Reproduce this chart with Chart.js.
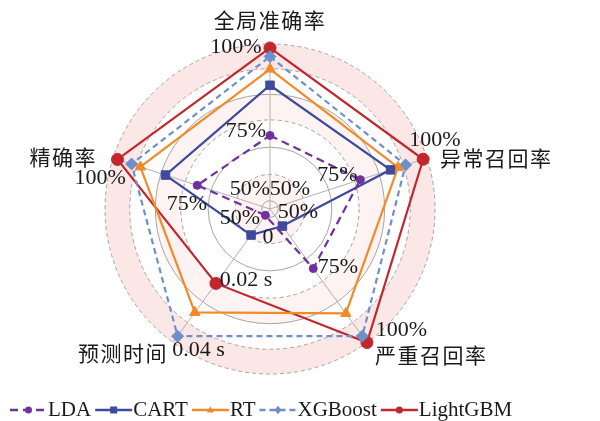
<!DOCTYPE html>
<html lang="zh">
<head>
    <meta charset="UTF-8">
    <title>Model Radar</title>
    <script src="https://cdn.jsdelivr.net/npm/chart.js@4.4.0/dist/chart.umd.min.js"></script>
    <style>
        html, body { margin: 0; padding: 0; background: #fff; }
        #wrap { width: 600px; height: 421px; position: relative; }
    </style>
</head>
<body>

    <div id="wrap"><canvas id="radar"></canvas></div>

    <script>

        // axes, clockwise from the top
        const axisNames = ['全局准确率', '异常召回率', '严重召回率', '预测时间', '精确率'];
        // percentage axes run 50%..100%, prediction time 0..0.04 s
        const axisMin = [50, 50, 50, 0, 50];
        const axisMax = [100, 100, 100, 0.04, 100];

        const modelNames = ['LDA', 'CART', 'RT', 'XGBoost', 'LightGBM'];
        const ldaValues  = [72.3, 78.8, 72.3, 0.0019, 73.2];
        const cartValues = [87.5, 88.4, 56.4, 0.0078, 83.3];
        const rtValues   = [92.4, 90.8, 89.1, 0.0310, 91.3];
        const xgbValues  = [96.2, 93.2, 97.6, 0.0381, 94.1];
        const lgbmValues = [98.8, 98.8, 100,  0.0223, 98.6];

        // value annotations on the axes
        const noteAxis   = [0, 0, 0, 1, 1, 1, 2, 2, 2, 3, 3, 3, 4, 4, 4];
        const noteValues = [100, 75, 50, 100, 75, 50, 100, 75, 50, 0.04, 0.02, 0, 100, 75, 50];
        const noteTexts  = ['100%', '75%', '50%', '100%', '75%', '50%', '100%', '75%', '50%',
                            '0.04 s', '0.02 s', '0', '100%', '75%', '50%'];

        // ring levels (share of the outer radius)
        const ringLevels = [5, 21, 37.5, 54, 69.5, 85, 100];

        // ---- styles / layout ----
        const colors = ['#7030a0', '#3e4b9c', '#f28a2a', '#6d90ca', '#c1272d'];
        const dashes = [[8, 5], [], [], [6, 4], []];
        const pointStyles = ['circle', 'rect', 'triangle', 'rectRot', 'circle'];
        const pointRadii = [4, 6, 6, 6, 6];
        const ringDashed = [false, true, false, true, false, true, true];
        const bands = [[85, 100, '#fce7e7'], [54, 69.5, '#fef3f3'], [0, 21, '#fef3f3']];
        const nameOffsets = [[0, -24, 'center'], [13, 0, 'left'], [8, 13, 'left'], [-5, 11, 'right'], [-16, -1, 'right']];
        const noteOffsets = [[-34, 3.5], [-24, 5], [-20, -19.5], [8, -18], [-11, -8], [20, -19.5],
                             [34.5, -12], [19.5, -9], [28, 3.5], [25.5, 8], [24.5, 4], [-2, 28.5],
                             [-13, 20], [-4.5, 21], [-30, 9.5]];

        function norm(i, v) {
            return (v - axisMin[i]) / (axisMax[i] - axisMin[i]) * 100;
        }

        const series = [ldaValues, cartValues, rtValues, xgbValues, lgbmValues];

        const datasets = series.map((vals, k) => ({
            label: modelNames[k],
            data: vals.map((v, i) => norm(i, v)),
            borderColor: colors[k],
            backgroundColor: colors[k],
            pointBackgroundColor: colors[k],
            pointBorderColor: colors[k],
            borderWidth: 2.2,
            borderDash: dashes[k],
            pointStyle: pointStyles[k],
            pointRadius: pointRadii[k],
            pointBorderWidth: 1,
            fill: false
        }));

        // rings background
        const bandPlugin = {
            id: 'bands',
            beforeDraw(chart) {
                const ctx = chart.ctx;
                const s = chart.scales.r;
                ctx.save();
                ctx.fillStyle = '#fff';
                ctx.fillRect(0, 0, chart.width, chart.height);
                bands.forEach(b => {
                    const r0 = s.getDistanceFromCenterForValue(b[0]);
                    const r1 = s.getDistanceFromCenterForValue(b[1]);
                    ctx.beginPath();
                    ctx.arc(s.xCenter, s.yCenter, r1, 0, Math.PI * 2);
                    ctx.arc(s.xCenter, s.yCenter, r0, 0, Math.PI * 2, true);
                    ctx.fillStyle = b[2];
                    ctx.fill();
                });
                ctx.restore();
            }
        };

        function drawMarker(ctx, style, x, y, r, color) {
            ctx.fillStyle = color;
            ctx.beginPath();
            if (style === 'circle') {
                ctx.arc(x, y, r, 0, Math.PI * 2);
            } else if (style === 'rect') {
                ctx.rect(x - r, y - r, r * 2, r * 2);
            } else if (style === 'triangle') {
                ctx.moveTo(x, y - r * 1.1);
                ctx.lineTo(x + r, y + r * 0.7);
                ctx.lineTo(x - r, y + r * 0.7);
                ctx.closePath();
            } else {
                ctx.moveTo(x, y - r * 1.2);
                ctx.lineTo(x + r, y);
                ctx.lineTo(x, y + r * 1.2);
                ctx.lineTo(x - r, y);
                ctx.closePath();
            }
            ctx.fill();
        }

        // axis names, value notes, legend
        const textPlugin = {
            id: 'texts',
            afterDatasetsDraw(chart) {
                const ctx = chart.ctx;
                const s = chart.scales.r;
                ctx.save();
                ctx.fillStyle = '#1a1a1a';
                ctx.textBaseline = 'middle';

                ctx.font = '21px "Noto Sans CJK SC"';
                ctx.letterSpacing = '1.5px';
                axisNames.forEach((name, i) => {
                    const p = s.getPointPosition(i, s.drawingArea);
                    const o = nameOffsets[i];
                    ctx.textAlign = o[2];
                    ctx.fillText(name, p.x + o[0], p.y + o[1]);
                });

                ctx.letterSpacing = '0px';
                ctx.font = '22px "Liberation Serif"';
                ctx.textAlign = 'center';
                noteTexts.forEach((t, k) => {
                    const i = noteAxis[k];
                    const p = s.getPointPositionForValue(i, norm(i, noteValues[k]));
                    ctx.fillText(t, p.x + noteOffsets[k][0], p.y + noteOffsets[k][1]);
                });

                // legend
                ctx.font = '21px "Liberation Serif"';
                ctx.textAlign = 'left';
                let x = 10;
                const y = 410;
                modelNames.forEach((name, k) => {
                    ctx.save();
                    ctx.strokeStyle = colors[k];
                    ctx.lineWidth = 2.4;
                    ctx.setLineDash(dashes[k]);
                    ctx.beginPath();
                    ctx.moveTo(x, y);
                    ctx.lineTo(x + 37, y);
                    ctx.stroke();
                    drawMarker(ctx, pointStyles[k], x + 18.5, y, 3.5, colors[k]);
                    ctx.restore();
                    ctx.fillStyle = '#1a1a1a';
                    ctx.fillText(name, x + 38, y);
                    x += 38 + ctx.measureText(name).width + 4;
                });
                ctx.restore();
            }
        };

        const ctx = document.getElementById('radar').getContext('2d');
        const radar = new Chart(ctx, {
            type: 'radar',
            data: {
                labels: axisNames,
                datasets: datasets
            },
            options: {
                responsive: true,
                maintainAspectRatio: false,
                animation: false,
                devicePixelRatio: 1,
                layout: {
                    padding: { left: 105, right: 165, top: 44, bottom: 47 }
                },
                plugins: {
                    legend: { display: false },
                    tooltip: { enabled: false }
                },
                elements: {
                    line: { tension: 0 }
                },
                scales: {
                    r: {
                        min: 0,
                        max: 100,
                        afterBuildTicks: function(scale) {
                            scale.ticks = [0].concat(ringLevels).map(v => ({ value: v }));
                        },
                        ticks: { display: false },
                        pointLabels: { display: false },
                        grid: {
                            circular: true,
                            color: '#a9a4a4',
                            lineWidth: 1
                        },
                        border: {
                            dash: function(c) {
                                return ringDashed[c.index - 1] ? [4, 3] : [];
                            }
                        },
                        angleLines: {
                            color: '#b3b0b0',
                            lineWidth: 1
                        }
                    }
                }
            },
            plugins: [bandPlugin, textPlugin]
        });

    </script>

</body>
</html>
